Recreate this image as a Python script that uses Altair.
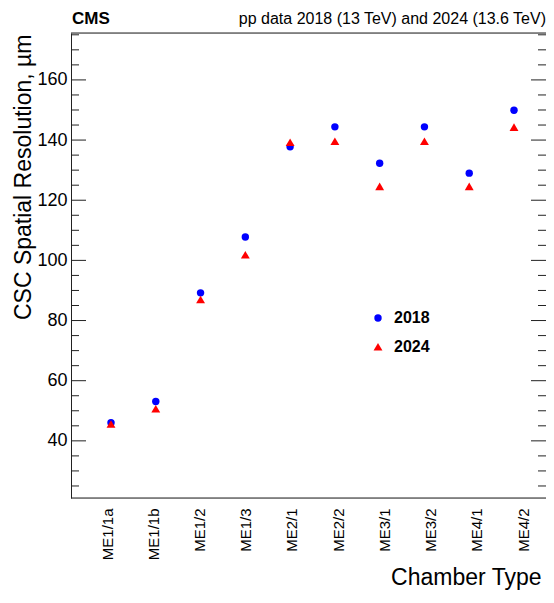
import altair as alt
import pandas as pd

chambers = ["ME1/1a", "ME1/1b", "ME1/2", "ME1/3", "ME2/1",
            "ME2/2", "ME3/1", "ME3/2", "ME4/1", "ME4/2"]
res_2018 = [46.0, 53.1, 89.2, 107.8, 137.8, 144.4, 132.3, 144.4, 129.0, 149.9]
res_2024 = [45.5, 50.6, 86.9, 101.8, 139.2, 139.5, 124.5, 139.5, 124.5, 144.2]
series = ["2018", "2024"]
major_ticks = [40, 60, 80, 100, 120, 140, 160]
minor_ticks = [25, 30, 35, 45, 50, 55, 65, 70, 75, 85, 90, 95, 105, 110, 115,
               125, 130, 135, 145, 150, 155, 165, 170, 175]
header_left = "CMS"
header_right = "pp data 2018 (13 TeV) and 2024 (13.6 TeV)"
y_title = "CSC Spatial Resolution, µm"
x_title = "Chamber Type"

df = pd.DataFrame({
    "chamber": chambers * 2,
    "year": [series[0]] * len(chambers) + [series[1]] * len(chambers),
    "res": res_2018 + res_2024,
})
label_df = pd.DataFrame({"chamber": chambers})

W, H = 475, 465
FONT = "Liberation Sans"
FRAME = "#222"
TRIANGLE = "M0,-1.1L1.2,0.95L-1.2,0.95Z"
xscale = alt.Scale(type="point", domain=chambers, range=[40, 443], padding=0)
label_scale = alt.Scale(type="point", domain=chambers, range=[36, 452], padding=0)
yscale = alt.Scale(domain=[21, 175.6], nice=False, zero=False)

y_axis = alt.Axis(values=major_ticks, ticks=False, tickSize=0,
                  domain=True, domainColor=FRAME, domainWidth=1,
                  grid=False, labelFontSize=18, labelPadding=4,
                  labelColor="black", labelFont=FONT,
                  title=y_title, titleFontSize=23, titleFontWeight="normal",
                  titleFont=FONT, titleColor="black",
                  titleX=-41, titleY=1, titleAlign="right", titleAngle=-90,
                  titleBaseline="alphabetic")

legend = alt.Legend(
    title=None, orient="none", legendX=299, legendY=277, padding=0,
    labelFontSize=16, labelFontWeight="bold", labelFont=FONT, labelColor="black",
    symbolSize=55, labelOffset=8, rowPadding=13, clipHeight=16,
    symbolStrokeWidth=0,
)

points = alt.Chart(df).mark_point(filled=True, opacity=1, size=55).encode(
    x=alt.X("chamber:N", scale=xscale, sort=chambers, axis=None),
    y=alt.Y("res:Q", scale=yscale, axis=y_axis),
    color=alt.Color("year:N", scale=alt.Scale(domain=series, range=["#0000ff", "#ff0000"]),
                    legend=legend),
    shape=alt.Shape("year:N", scale=alt.Scale(domain=series, range=["circle", TRIANGLE]),
                    legend=legend),
)

# category axis (ROOT bin labels sit on their own, slightly wider spacing)
labels = alt.Chart(label_df).mark_point(opacity=0, size=1).encode(
    x=alt.X("chamber:N", scale=label_scale, sort=chambers,
            axis=alt.Axis(orient="bottom", labelAngle=-90, labelFontSize=15, labelPadding=10,
                          ticks=False, tickSize=0, domain=False, grid=False,
                          labelColor="black", labelFont=FONT,
                          title=x_title, titleFontSize=23, titleFontWeight="normal",
                          titleFont=FONT, titleColor="black",
                          titleX=470, titleY=86, titleAlign="right",
                          titleBaseline="alphabetic")),
    y=alt.value(H),
)

major_df = pd.DataFrame({"v": major_ticks})
minor_df = pd.DataFrame({"v": minor_ticks})

def tick_layer(data, x0, x1):
    return alt.Chart(data).mark_rule(color=FRAME, strokeWidth=1).encode(
        y=alt.Y("v:Q", scale=yscale, axis=y_axis),
        x=alt.value(x0), x2=alt.value(x1),
    )

ticks = [
    tick_layer(major_df, 0, 15),
    tick_layer(minor_df, 0, 8),
    tick_layer(major_df, W, W - 15),
    tick_layer(minor_df, W, W - 8),
]

frame_df = pd.DataFrame({"k": [0]})
top_frame = alt.Chart(frame_df).mark_rule(color=FRAME, strokeWidth=1).encode(
    x=alt.value(0), x2=alt.value(W), y=alt.value(0)
)
bottom_frame = alt.Chart(frame_df).mark_rule(color=FRAME, strokeWidth=1).encode(
    x=alt.value(0), x2=alt.value(W), y=alt.value(H)
)

txt_left = alt.Chart(pd.DataFrame({"t": [header_left]})).mark_text(
    align="left", baseline="alphabetic", fontSize=17, fontWeight="bold", font=FONT, color="black"
).encode(text="t:N", x=alt.value(1), y=alt.value(-9))

txt_right = alt.Chart(pd.DataFrame({"t": [header_right]})).mark_text(
    align="right", baseline="alphabetic", fontSize=16, font=FONT, color="black"
).encode(text="t:N", x=alt.value(W), y=alt.value(-9))

chart = alt.layer(points, labels, *ticks, top_frame, bottom_frame, txt_left, txt_right).resolve_scale(
    x="independent"
).properties(
    width=W, height=H,
    autosize=alt.AutoSizeParams(type="none"),
    padding={"left": 63, "top": 25, "right": 0, "bottom": 94},
).configure_view(stroke=None).configure(font=FONT)

chart.save("out.html", embed_options={"renderer": "svg", "actions": False})
